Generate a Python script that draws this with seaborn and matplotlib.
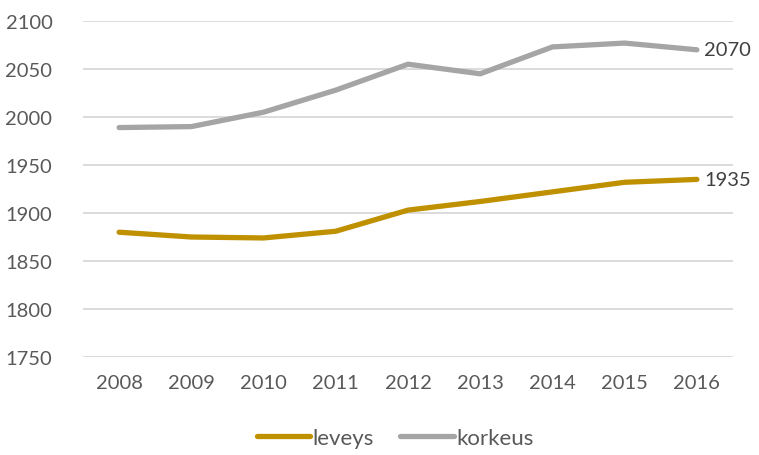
import seaborn as sns
import matplotlib.pyplot as plt
import pandas as pd

# Values
years = ['2008', '2009', '2010', '2011', '2012', '2013', '2014', '2015', '2016']
leveys = [1880, 1875, 1874, 1881, 1903, 1912, 1922, 1932, 1935]
korkeus = [1989, 1990, 2005, 2028, 2055, 2045, 2073, 2077, 2070]
series_names = ['leveys', 'korkeus']
colors = {'leveys': '#BF9000', 'korkeus': '#A5A5A5'}

df = pd.DataFrame({
    'year': years * 2,
    'value': leveys + korkeus,
    'series': ['leveys'] * len(years) + ['korkeus'] * len(years),
})

sns.set_style('white')
plt.rcParams['font.family'] = ['Lato', 'DejaVu Sans']

fig = plt.figure(figsize=(7.59, 4.56), dpi=100)
ax = fig.add_axes([83 / 759, 1 - 358 / 456, 650 / 759, 336 / 456])

sns.lineplot(data=df, x='year', y='value', hue='series', hue_order=series_names,
             palette=colors, linewidth=3.8, sort=False, ax=ax,
             solid_capstyle='round', solid_joinstyle='round')

ax.set_xlim(-0.5, len(years) - 0.5)
ax.set_ylim(1750, 2100)
ax.set_yticks(range(1750, 2101, 50))
ax.yaxis.grid(True, color='#D9D9D9', linewidth=1.3)
ax.set_axisbelow(True)
for s in ax.spines.values():
    s.set_visible(False)
ax.tick_params(axis='both', length=0, labelsize=14.5, labelcolor='#595959')
ax.tick_params(axis='y', pad=22)
ax.tick_params(axis='x', pad=12)
ax.set_xlabel('')
ax.set_ylabel('')

# End-of-line value labels
ax.text(len(years) - 1 + 0.1, korkeus[-1], str(korkeus[-1]), va='center', ha='left',
        fontsize=14.5, color='#404040')
ax.text(len(years) - 1 + 0.1, leveys[-1], str(leveys[-1]), va='center', ha='left',
        fontsize=14.5, color='#404040')

handles, labels = ax.get_legend_handles_labels()
ax.legend(handles, labels, loc='lower center', bbox_to_anchor=(0.48, -0.33),
          ncol=2, frameon=False, fontsize=16, handlelength=2.4, handletextpad=0.1,
          columnspacing=1.2, labelcolor='#595959')

plt.savefig('out.png', dpi=100)
plt.close()
